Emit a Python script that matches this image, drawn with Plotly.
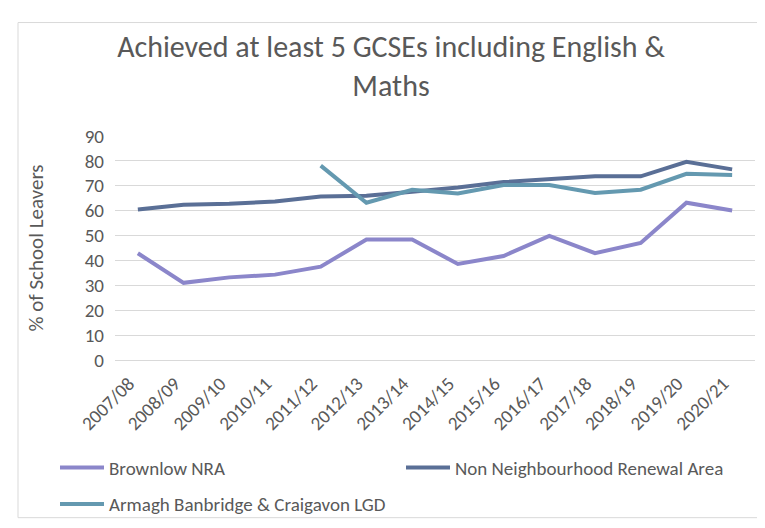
import plotly.graph_objects as go

years = ["2007/08", "2008/09", "2009/10", "2010/11", "2011/12", "2012/13", "2013/14",
         "2014/15", "2015/16", "2016/17", "2017/18", "2018/19", "2019/20", "2020/21"]
brownlow = [42.9, 31.0, 33.2, 34.3, 37.5, 48.4, 48.4, 38.6, 41.8, 49.9, 42.9, 47.0, 63.2, 60.1]
non_nra = [60.5, 62.4, 62.8, 63.7, 65.7, 66.0, 67.6, 69.3, 71.5, 72.7, 73.8, 73.8, 79.6, 76.6]
abc_lgd = [None, None, None, None, 78.1, 63.2, 68.4, 66.9, 70.3, 70.3, 67.1, 68.4, 74.8, 74.3]

FONT = "Carlito, Calibri, Lato, sans-serif"
GREY = "#595959"

fig = go.Figure()
fig.add_trace(go.Scatter(x=years, y=brownlow, mode="lines", name="Brownlow NRA",
                         line=dict(color="#8B86CA", width=4), legend="legend"))
fig.add_trace(go.Scatter(x=years, y=non_nra, mode="lines", name="Non Neighbourhood Renewal Area",
                         line=dict(color="#5A6F96", width=4), legend="legend"))
fig.add_trace(go.Scatter(x=years, y=abc_lgd, mode="lines", name="Armagh Banbridge & Craigavon LGD",
                         line=dict(color="#6499B0", width=4), legend="legend2"))

W, H = 765, 528
L, R, T, B = 107, 18, 128, 167
pw, ph = W - L - R, H - T - B

def px(x):
    return (x - L) / pw

def py(y):
    return (H - B - y) / ph

fig.update_layout(
    width=W, height=H,
    margin=dict(l=L, r=R, t=T, b=B),
    paper_bgcolor="white", plot_bgcolor="white",
    font=dict(family=FONT, color=GREY, size=19),
    title=dict(text="Achieved at least 5 GCSEs including English &<br>Maths",
               x=383 / W, xanchor="center", y=1 - 49 / H, yanchor="top",
               font=dict(family=FONT, size=30, color=GREY)),
    xaxis=dict(type="category", tickangle=-45, showgrid=False, showline=False,
               ticks="", tickfont=dict(size=19, color=GREY), range=[-0.5, 13.5],
               ticklabelstandoff=8, ticklabelshift=-9),
    yaxis=dict(range=[0, 90], dtick=10, showgrid=True, gridcolor="#D9D9D9", gridwidth=1,
               zeroline=True, zerolinecolor="#D9D9D9", zerolinewidth=1,
               ticks="", tickfont=dict(size=19, color=GREY), ticklabelstandoff=10,
               title=dict(text="% of School Leavers", font=dict(size=21, color=GREY), standoff=35)),
    legend=dict(orientation="h", x=px(47), xanchor="left", y=py(473), yanchor="middle",
                entrywidth=287, entrywidthmode="pixels", font=dict(size=19, color=GREY),
                itemwidth=44, bgcolor="rgba(0,0,0,0)"),
    legend2=dict(orientation="h", x=px(47), xanchor="left", y=py(511), yanchor="middle",
                 font=dict(size=19, color=GREY), itemwidth=44, bgcolor="rgba(0,0,0,0)"),
    showlegend=True,
    shapes=[dict(type="rect", xref="paper", yref="paper",
                 x0=px(10), x1=px(775), y0=py(525), y1=py(10),
                 line=dict(color="#D9D9D9", width=1), layer="below")],
)

fig.write_html("out.html")
